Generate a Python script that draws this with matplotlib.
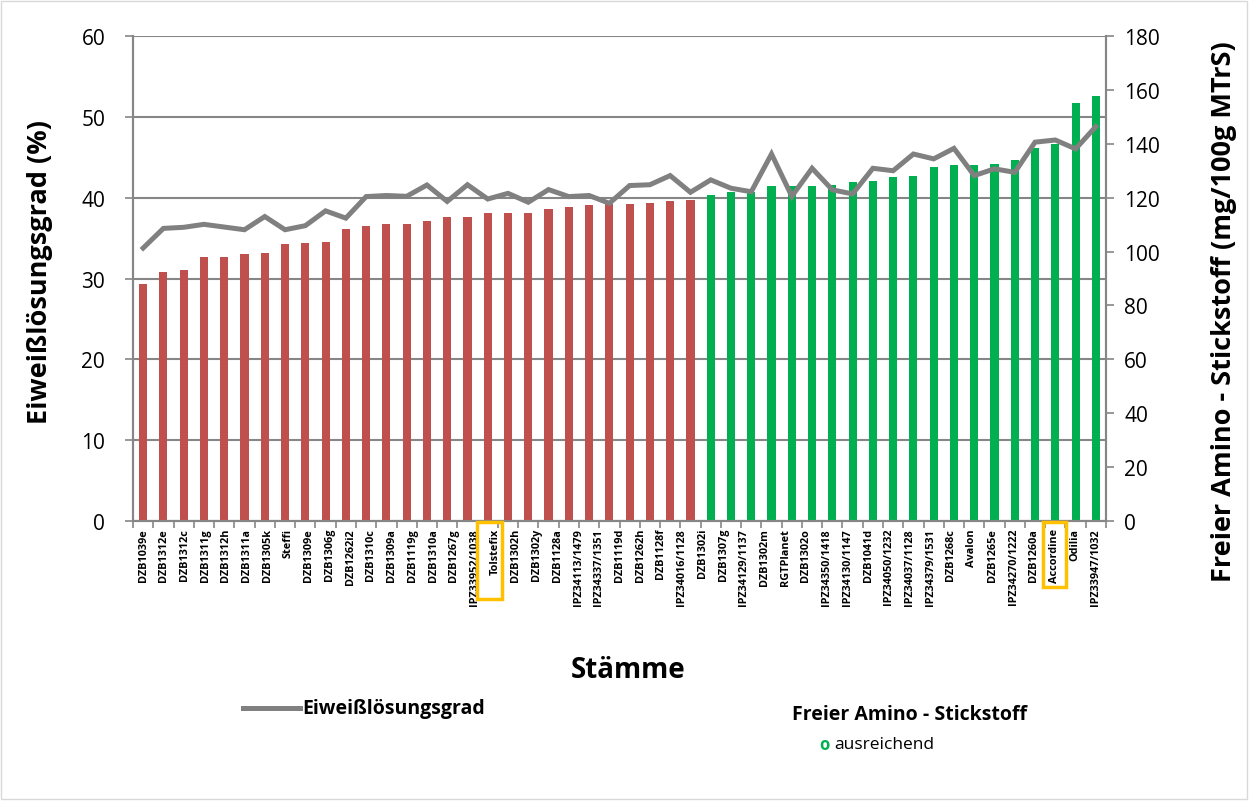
import numpy as np
import matplotlib.pyplot as plt
from matplotlib.patches import Rectangle

plt.rcParams['font.family'] = ['Open Sans', 'DejaVu Sans']

# Stämme (Achsbeschriftung)
staemme = ['DZB1039e', 'DZB1312e', 'DZB1312c', 'DZB1311g', 'DZB1312h', 'DZB1311a',
           'DZB1305k', 'Steffi', 'DZB1309e', 'DZB1306g', 'DZB1262i2', 'DZB1310c',
           'DZB1309a', 'DZB1119g', 'DZB1310a', 'DZB1267g', 'IPZ33952/1038', 'Tolstefix',
           'DZB1302h', 'DZB1302y', 'DZB1128a', 'IPZ34113/1479', 'IPZ34337/1351', 'DZB1119d',
           'DZB1262h', 'DZB1128f', 'IPZ34016/1128', 'DZB1302i', 'DZB1307g', 'IPZ34129/1137',
           'DZB1302m', 'RGTPlanet', 'DZB1302o', 'IPZ34350/1418', 'IPZ34130/1147', 'DZB1041d',
           'IPZ34050/1232', 'IPZ34037/1128', 'IPZ34379/1531', 'DZB1268c', 'Avalon', 'DZB1265e',
           'IPZ34270/1222', 'DZB1260a', 'Accordine', 'Odilia', 'IPZ33947/1032']

# Säulen, linke Achse (%)
eiweiss = [29.3, 30.8, 31.1, 32.7, 32.7, 33.0, 33.1, 34.3, 34.4, 34.5, 36.1, 36.5,
           36.7, 36.8, 37.1, 37.6, 37.6, 38.1, 38.1, 38.1, 38.6, 38.9, 39.1, 39.2,
           39.2, 39.4, 39.6, 39.7, 40.3, 40.7, 40.7, 41.4, 41.4, 41.5, 41.6, 42.0,
           42.1, 42.5, 42.7, 43.8, 44.0, 44.1, 44.2, 44.7, 46.1, 46.7, 51.7, 52.6]

# Linie, rechte Achse (mg/100g MTrS)
fan = [101.3, 108.6, 109.0, 110.1, 109.1, 108.1, 113.0, 108.1, 109.6, 115.1, 112.4, 120.4,
       120.8, 120.5, 124.7, 118.6, 124.8, 119.5, 121.6, 118.3, 123.0, 120.4, 120.8, 117.9,
       124.5, 124.8, 128.2, 122.0, 126.6, 123.5, 122.2, 136.2, 120.5, 130.9, 122.9, 121.4,
       130.9, 130.0, 136.2, 134.4, 138.3, 128.2, 130.7, 129.4, 140.6, 141.4, 138.1, 146.4]

# FAN ausreichend ja/nein
ausreichend = [0] * 28 + [1] * 20

rot = '#C0504D'
gruen = '#00B050'
grau = '#808080'
achse = '#868686'

W, H = 1259, 812
fig = plt.figure(figsize=(W / 100, H / 100), dpi=100)
ax = fig.add_axes([133 / W, 1 - 522 / H, (1106 - 133) / W, (522 - 37) / H])
ax2 = ax.twinx()

x = np.arange(len(eiweiss))
farben = [gruen if a else rot for a in ausreichend]
ax.bar(x, eiweiss, width=0.4, color=farben, zorder=2)
ax2.plot(x, fan, color=grau, lw=3.6, solid_joinstyle='miter', zorder=3)

ax.set_xlim(-0.5, len(eiweiss) - 0.5)
ax.set_ylim(0, 60)
ax2.set_ylim(0, 180)
ax.set_yticks(range(0, 61, 10))
ax2.set_yticks(range(0, 181, 20))
ax.yaxis.grid(True, color=achse, lw=1.5, zorder=0)
ax.set_axisbelow(True)

# Teilstriche zwischen den Kategorien, Beschriftung separat
ax.xaxis.remove_overlapping_locs = False
ax.set_xticks(np.arange(-0.5, len(eiweiss), 1.0))
ax.set_xticklabels([])
ax.set_xticks(np.linspace(0, len(eiweiss) - 1, len(staemme)), minor=True)
ax.set_xticklabels(staemme, minor=True, rotation=90, fontsize=7.8,
                   fontweight='bold', va='top', ha='center')
ax.tick_params(axis='x', which='major', length=5, width=1.2, color=achse)
ax.tick_params(axis='x', which='minor', length=0, pad=5)

for a in (ax, ax2):
    a.tick_params(axis='y', length=6, width=1.2, color=achse, labelsize=15)
    a.spines['top'].set_visible(False)
    for s in ('left', 'right', 'bottom'):
        a.spines[s].set_color(achse)
        a.spines[s].set_linewidth(1.5)
ax.tick_params(axis='y', pad=14)
ax2.tick_params(axis='y', pad=7)

fig.text(40 / W, 1 - 272 / H, 'Eiweißlösungsgrad (%)', fontsize=19.5,
         fontweight='bold', rotation=90, ha='center', va='center')
fig.text(1224 / W, 1 - 312 / H, 'Freier Amino - Stickstoff (mg/100g MTrS)',
         fontsize=19.5, fontweight='bold', rotation=90, ha='center', va='center')
fig.text(628 / W, 1 - 670 / H, 'Stämme', fontsize=20,
         fontweight='bold', ha='center', va='center')

# Legende
fig.add_artist(plt.Line2D([243 / W, 300 / W], [1 - 709 / H] * 2,
                          color=grau, lw=3.6))
fig.text(302 / W, 1 - 709 / H, 'Eiweißlösungsgrad', fontsize=14,
         fontweight='bold', va='center')
fig.text(792 / W, 1 - 715 / H, 'Freier Amino - Stickstoff', fontsize=14,
         fontweight='bold', va='center')
fig.text(819 / W, 1 - 745 / H, 'o', fontsize=12, fontweight='bold',
         color=gruen, va='center')
fig.text(834 / W, 1 - 745 / H, 'ausreichend', fontsize=12.5, va='center')

# Markierungen
for x0, x1, y1 in [(477, 502, 600), (1043, 1066, 588)]:
    fig.add_artist(Rectangle((x0 / W, 1 - y1 / H), (x1 - x0) / W,
                             (y1 - 523) / H, transform=fig.transFigure,
                             fill=False, ec='#FFC000', lw=2.5))

fig.add_artist(Rectangle((1 / W, 1 - 800 / H), 1246 / W, 798 / H,
                         transform=fig.transFigure, fill=False, ec='#D9D9D9', lw=1))

fig.savefig('out.png', dpi=100)
